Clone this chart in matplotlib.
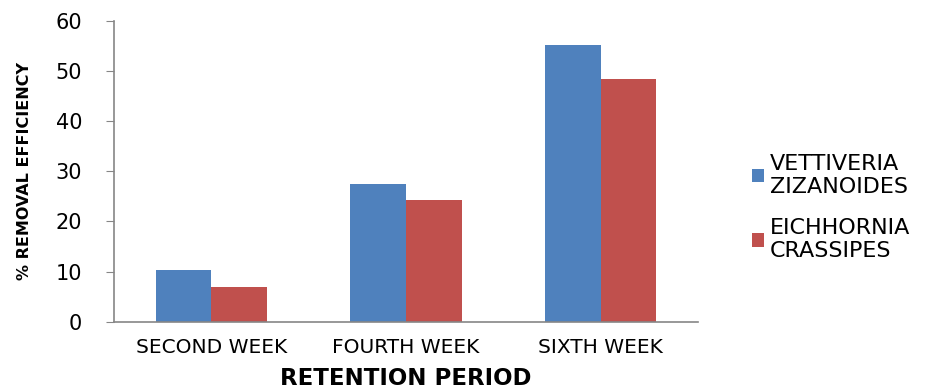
import numpy as np
import matplotlib.pyplot as plt

weeks = ['SECOND WEEK', 'FOURTH WEEK', 'SIXTH WEEK']
vettiveria = [10.4, 27.5, 55.2]
eichhornia = [6.9, 24.2, 48.3]
series_names = ['VETTIVERIA\nZIZANOIDES', 'EICHHORNIA\nCRASSIPES']

blue = '#4F81BD'
red = '#C0504D'
axis_gray = '#868686'

fig = plt.figure(figsize=(9.43, 3.92), dpi=100)
ax = fig.add_axes([0.121, 0.179, 0.619, 0.768])

x = np.arange(len(weeks))
w = 0.2857
ax.bar(x - w/2, vettiveria, w, color=blue, label=series_names[0])
ax.bar(x + w/2, eichhornia, w, color=red, label=series_names[1])

ax.set_xlim(-0.5, 2.5)
ax.set_ylim(0, 60)
ax.set_yticks(range(0, 61, 10))
ax.set_xticks(x)
ax.set_xticklabels(weeks)

for s in ['top', 'right']:
    ax.spines[s].set_visible(False)
for s in ['left', 'bottom']:
    ax.spines[s].set_color(axis_gray)
    ax.spines[s].set_linewidth(1.2)

ax.tick_params(axis='y', length=6, color=axis_gray, labelsize=15, pad=17)
ax.tick_params(axis='x', length=0, labelsize=14.5, pad=12)

ax.set_xlabel('RETENTION PERIOD', fontsize=16.5, fontweight='bold', labelpad=7)
ax.set_ylabel('% REMOVAL EFFICIENCY', fontsize=11.5, fontweight='bold', labelpad=17)

leg = fig.legend(loc='upper left', bbox_to_anchor=(0.788, 0.63), frameon=False,
                 fontsize=16, handlelength=0.55, handleheight=0.55,
                 labelspacing=0.95, handletextpad=0.25, borderaxespad=0)

fig.savefig('out.png', dpi=100)
